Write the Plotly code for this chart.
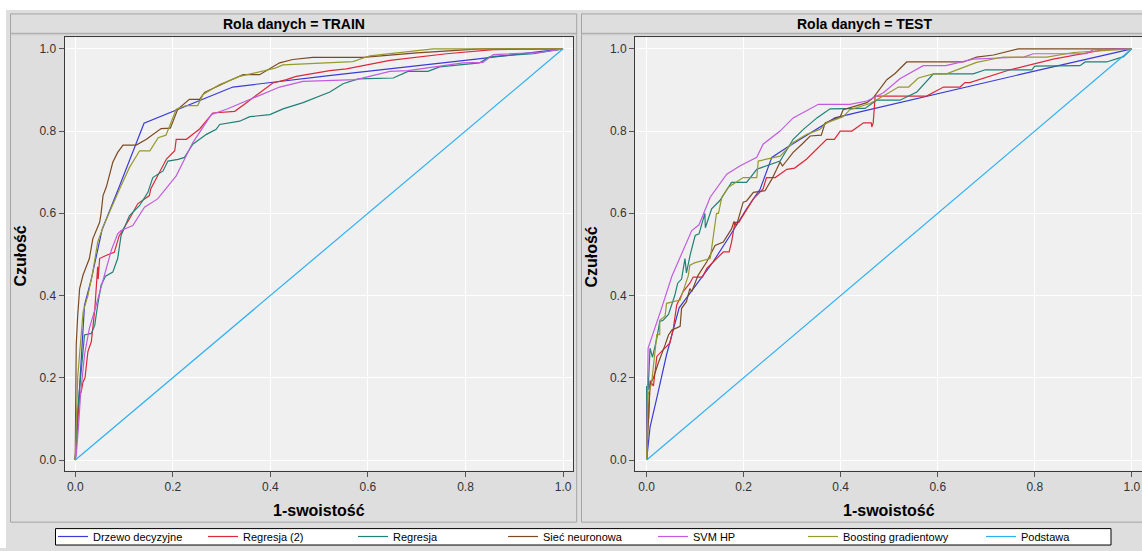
import plotly.graph_objects as go

W, H = 1142, 551

# ---------------- data ----------------
series_names = ["Drzewo decyzyjne", "Regresja (2)", "Regresja", "Sieć neuronowa",
                "SVM HP", "Boosting gradientowy", "Podstawa"]
series_colors = ["#3b3bd6", "#dc2838", "#1f8075", "#7b4a22", "#c25be0", "#959a2e", "#2eb0f5"]

x_ticks = [0.0, 0.2, 0.4, 0.6, 0.8, 1.0]
panel_titles = ["Rola danych = TRAIN", "Rola danych = TEST"]

# TRAIN
train_drzewo_x = [0, 0.002, 0.005, 0.009, 0.019, 0.033, 0.055, 0.091, 0.141, 0.323, 0.52, 0.822, 1.0]
train_drzewo_y = [0, 0.04, 0.08, 0.183, 0.377, 0.44, 0.56, 0.667, 0.819, 0.907, 0.935, 0.975, 1.0]

train_reg2_x = [0, 0.002, 0.009, 0.012, 0.016, 0.02, 0.026, 0.033, 0.04, 0.046, 0.047, 0.05, 0.064,
                0.08, 0.09, 0.111, 0.128, 0.152, 0.155, 0.187, 0.204, 0.207, 0.228, 0.241, 0.255,
                0.282, 0.327, 0.351, 0.378, 0.405, 0.433, 0.453, 0.522, 0.556, 0.645, 0.761, 0.857, 1.0]
train_reg2_y = [0, 0.04, 0.16, 0.165, 0.19, 0.2, 0.264, 0.288, 0.365, 0.47, 0.44, 0.49, 0.498,
                0.505, 0.545, 0.586, 0.623, 0.643, 0.66, 0.732, 0.752, 0.78, 0.78, 0.792, 0.805,
                0.844, 0.848, 0.869, 0.893, 0.917, 0.925, 0.933, 0.947, 0.951, 0.972, 0.988, 0.998, 1.0]

train_reg_x = [0, 0.002, 0.005, 0.011, 0.019, 0.033, 0.040, 0.046, 0.053, 0.062, 0.077, 0.087, 0.094,
               0.111, 0.132, 0.149, 0.159, 0.180, 0.190, 0.211, 0.224, 0.241, 0.269, 0.289, 0.296,
               0.337, 0.358, 0.399, 0.426, 0.467, 0.522, 0.549, 0.580, 0.652, 0.682, 0.723, 0.747,
               0.829, 0.85, 0.939, 1.0]
train_reg_y = [0, 0.05, 0.12, 0.2, 0.304, 0.308, 0.328, 0.377, 0.425, 0.447, 0.457, 0.49, 0.546,
               0.594, 0.619, 0.651, 0.687, 0.703, 0.727, 0.731, 0.736, 0.768, 0.792, 0.804, 0.816,
               0.824, 0.835, 0.84, 0.854, 0.869, 0.895, 0.915, 0.927, 0.929, 0.945, 0.945, 0.956,
               0.966, 0.981, 0.988, 1.0]

train_siec_x = [0, 0.001, 0.002, 0.005, 0.009, 0.016, 0.022, 0.029, 0.036, 0.045, 0.050, 0.053, 0.057,
                0.064, 0.070, 0.077, 0.087, 0.098, 0.125, 0.146, 0.176, 0.195, 0.21, 0.234, 0.255,
                0.265, 0.317, 0.344, 0.378, 0.419, 0.446, 0.487, 0.59, 0.70, 0.83, 1.0]
train_siec_y = [0, 0.12, 0.28, 0.35, 0.417, 0.45, 0.47, 0.49, 0.538, 0.565, 0.578, 0.60, 0.643,
                0.665, 0.69, 0.724, 0.748, 0.766, 0.766, 0.780, 0.806, 0.807, 0.853, 0.877, 0.877,
                0.894, 0.923, 0.937, 0.937, 0.966, 0.974, 0.979, 0.979, 0.99, 1.0, 1.0]

train_svm_x = [0, 0.002, 0.007, 0.011, 0.019, 0.029, 0.043, 0.064, 0.074, 0.087, 0.094, 0.118, 0.142,
               0.169, 0.207, 0.241, 0.279, 0.310, 0.358, 0.419, 0.467, 0.576, 0.645, 0.682, 0.795,
               0.836, 0.857, 0.952, 1.0]
train_svm_y = [0, 0.01, 0.087, 0.16, 0.256, 0.32, 0.377, 0.465, 0.51, 0.55, 0.558, 0.570, 0.615,
               0.635, 0.691, 0.772, 0.840, 0.853, 0.877, 0.907, 0.921, 0.925, 0.945, 0.947, 0.966,
               0.967, 0.986, 0.991, 1.0]

train_boost_x = [0, 0.002, 0.005, 0.016, 0.026, 0.036, 0.046, 0.058, 0.070, 0.091, 0.111, 0.132, 0.153,
                 0.170, 0.186, 0.207, 0.228, 0.251, 0.262, 0.296, 0.337, 0.385, 0.41, 0.426, 0.522,
                 0.569, 0.604, 0.734, 1.0]
train_boost_y = [0, 0.10, 0.2, 0.36, 0.40, 0.457, 0.53, 0.57, 0.604, 0.659, 0.711, 0.752, 0.752,
                 0.784, 0.79, 0.853, 0.862, 0.862, 0.889, 0.913, 0.933, 0.945, 0.953, 0.961, 0.967,
                 0.969, 0.983, 1.0, 1.0]

# TEST
test_drzewo_x = [0, 0.007, 0.021, 0.041, 0.067, 0.096, 0.137, 0.172, 0.206, 0.234, 0.258, 0.289, 0.344,
                 0.388, 0.433, 0.522, 0.577, 0.673, 0.797, 1.0]
test_drzewo_y = [0, 0.08, 0.151, 0.256, 0.37, 0.417, 0.482, 0.546, 0.611, 0.659, 0.736, 0.76, 0.80,
                 0.832, 0.845, 0.869, 0.885, 0.911, 0.945, 1.0]

test_reg2_x = [0, 0.001, 0.004, 0.007, 0.014, 0.021, 0.034, 0.048, 0.055, 0.062, 0.075, 0.089, 0.096,
               0.115, 0.124, 0.144, 0.158, 0.17, 0.175, 0.182, 0.19, 0.203, 0.22, 0.24, 0.247, 0.265,
               0.289, 0.305, 0.33, 0.371, 0.387, 0.399, 0.423, 0.447, 0.463, 0.464, 0.467, 0.471,
               0.577, 0.612, 0.646, 0.656, 0.666, 0.749, 0.838, 0.948, 1.0]
test_reg2_y = [0, 0.163, 0.10, 0.193, 0.18, 0.252, 0.268, 0.285, 0.32, 0.377, 0.409, 0.43, 0.445,
               0.445, 0.466, 0.49, 0.506, 0.506, 0.53, 0.578, 0.578, 0.603, 0.635, 0.659, 0.687, 0.687,
               0.707, 0.71, 0.732, 0.78, 0.78, 0.80, 0.80, 0.82, 0.82, 0.81, 0.82, 0.885,
               0.885, 0.907, 0.907, 0.918, 0.918, 0.949, 0.975, 0.999, 1.0]

test_reg_x = [0, 0.0, 0.003, 0.007, 0.012, 0.021, 0.027, 0.034, 0.045, 0.058, 0.064, 0.072, 0.079,
              0.082, 0.09, 0.1, 0.108, 0.12, 0.121, 0.134, 0.151, 0.175, 0.206, 0.227, 0.275, 0.302,
              0.323, 0.351, 0.378, 0.45, 0.474, 0.522, 0.557, 0.591, 0.673, 0.698, 0.794, 0.8, 0.893,
              0.904, 0.948, 0.983, 1.0]
test_reg_y = [0, 0.18, 0.17, 0.272, 0.25, 0.296, 0.337, 0.34, 0.354, 0.40, 0.43, 0.44, 0.49,
              0.455, 0.50, 0.546, 0.55, 0.60, 0.565, 0.611, 0.631, 0.675, 0.675, 0.707, 0.727, 0.78,
              0.804, 0.832, 0.854, 0.855, 0.875, 0.875, 0.895, 0.939, 0.939, 0.949, 0.949, 0.958, 0.959,
              0.968, 0.968, 0.981, 1.0]

test_siec_x = [0, 0.003, 0.007, 0.014, 0.024, 0.038, 0.045, 0.052, 0.069, 0.072, 0.082, 0.089, 0.093,
               0.106, 0.124, 0.141, 0.158, 0.175, 0.18, 0.185, 0.199, 0.206, 0.22, 0.244, 0.258, 0.268,
               0.275, 0.28, 0.302, 0.32, 0.337, 0.36, 0.368, 0.399, 0.405, 0.454, 0.467, 0.495, 0.512,
               0.536, 0.653, 0.68, 0.715, 0.766, 1.0]
test_siec_y = [0, 0.08, 0.183, 0.2, 0.236, 0.28, 0.304, 0.316, 0.325, 0.369, 0.385, 0.417, 0.41,
               0.449, 0.482, 0.522, 0.53, 0.562, 0.58, 0.57, 0.627, 0.63, 0.651, 0.655, 0.683, 0.707,
               0.725, 0.715, 0.748, 0.768, 0.788, 0.79, 0.82, 0.835, 0.852, 0.869, 0.881, 0.925, 0.94,
               0.968, 0.968, 0.98, 0.985, 1.0, 1.0]

test_svm_x = [0, 0.003, 0.031, 0.052, 0.093, 0.108, 0.131, 0.165, 0.192, 0.227, 0.240, 0.275, 0.302,
              0.354, 0.419, 0.454, 0.488, 0.522, 0.57, 0.617, 0.673, 0.777, 0.797, 0.907, 0.92, 1.0]
test_svm_y = [0, 0.272, 0.37, 0.447, 0.558, 0.572, 0.639, 0.695, 0.715, 0.736, 0.768, 0.80, 0.832,
              0.865, 0.865, 0.873, 0.893, 0.927, 0.959, 0.959, 0.975, 0.98, 0.988, 0.988, 0.998, 1.0]

test_boost_x = [0, 0.003, 0.01, 0.019, 0.021, 0.027, 0.027, 0.038, 0.041, 0.069, 0.075, 0.086, 0.089,
                0.10, 0.131, 0.137, 0.144, 0.148, 0.155, 0.168, 0.199, 0.227, 0.23, 0.275, 0.302, 0.33,
                0.357, 0.371, 0.405, 0.419, 0.46, 0.488, 0.519, 0.54, 0.56, 0.591, 0.618, 0.68, 0.735,
                0.825, 0.88, 1.0]
test_boost_y = [0, 0.16, 0.185, 0.276, 0.305, 0.305, 0.34, 0.35, 0.381, 0.389, 0.41, 0.449, 0.474,
                0.48, 0.49, 0.538, 0.60, 0.60, 0.639, 0.663, 0.687, 0.687, 0.727, 0.739, 0.772, 0.792,
                0.804, 0.82, 0.835, 0.852, 0.867, 0.885, 0.907, 0.907, 0.929, 0.939, 0.939, 0.967, 0.98,
                0.98, 0.991, 1.0]

baseline_x = [0.0, 1.0]
baseline_y = [0.0, 1.0]

train_data = [(train_drzewo_x, train_drzewo_y), (train_reg2_x, train_reg2_y), (train_reg_x, train_reg_y),
              (train_siec_x, train_siec_y), (train_svm_x, train_svm_y), (train_boost_x, train_boost_y),
              (baseline_x, baseline_y)]
test_data = [(test_drzewo_x, test_drzewo_y), (test_reg2_x, test_reg2_y), (test_reg_x, test_reg_y),
             (test_siec_x, test_siec_y), (test_svm_x, test_svm_y), (test_boost_x, test_boost_y),
             (baseline_x, baseline_y)]

legend_widths = [105, 105, 105, 105, 105, 133, 86]

# ---------------- figure ----------------
FONT = "Liberation Sans, Arial, sans-serif"
fig = go.Figure()

for i, name in enumerate(series_names):
    fig.add_trace(go.Scatter(x=train_data[i][0], y=train_data[i][1], mode="lines", name=name,
                             line=dict(color=series_colors[i], width=1.2), legendgroup=name,
                             legendwidth=legend_widths[i], xaxis="x", yaxis="y"))
for i, name in enumerate(series_names):
    fig.add_trace(go.Scatter(x=test_data[i][0], y=test_data[i][1], mode="lines", name=name,
                             line=dict(color=series_colors[i], width=1.2), legendgroup=name,
                             showlegend=False, xaxis="x2", yaxis="y2"))


# pixel -> paper-fraction helpers (page margin removed, so figure pixels == screen pixels)
def px(s):
    return s / W


def py(s):
    return 1 - s / H


ydom = [py(473.3), py(37.5)]
axis_common = dict(showgrid=True, gridcolor="white", gridwidth=1, zeroline=False,
                   showline=True, linecolor="#3a3a3a", linewidth=1,
                   ticks="outside", ticklen=5, tickcolor="#555555",
                   tickfont=dict(family=FONT, size=12, color="#333333"),
                   tickvals=x_ticks, ticktext=[f"{t:.1f}" for t in x_ticks])

fig.update_layout(
    width=W, height=H,
    margin=dict(l=0, r=0, t=0, b=0),
    paper_bgcolor="#dedede",
    plot_bgcolor="#f0f0f0",
    font=dict(family=FONT, color="#000000"),
    xaxis=dict(domain=[px(64.5), px(573.3)], range=[-0.022, 1.021], anchor="y", mirror=True, **axis_common),
    yaxis=dict(domain=ydom, range=[-0.026, 1.028], anchor="x", mirror=True, **axis_common),
    xaxis2=dict(domain=[px(635), 1.0], range=[-0.024, 1.021], anchor="y2", mirror=True, **axis_common),
    yaxis2=dict(domain=ydom, range=[-0.026, 1.028], anchor="x2", mirror=False, **axis_common),
    showlegend=True,
    legend=dict(orientation="h", x=px(53), xanchor="left", y=py(539.5), yanchor="middle",
                bgcolor="rgba(0,0,0,0)", borderwidth=0,
                font=dict(family=FONT, size=11, color="#000000"),
                itemwidth=30, tracegroupgap=0),
)

shapes = []
# white page edge (top and left)
shapes.append(dict(type="rect", xref="paper", yref="paper", x0=0, x1=1, y0=py(10), y1=1,
                   fillcolor="white", line=dict(width=0), layer="below"))
shapes.append(dict(type="rect", xref="paper", yref="paper", x0=0, x1=px(6), y0=0, y1=1,
                   fillcolor="white", line=dict(width=0), layer="below"))
# panels
for (l, r) in [(10.5, 576.7), (581.5, 1160)]:
    shapes.append(dict(type="rect", xref="paper", yref="paper", x0=px(l), x1=px(r), y0=py(525), y1=py(14),
                       line=dict(color="#a4a4a4", width=1), fillcolor="rgba(0,0,0,0)", layer="below"))
    shapes.append(dict(type="line", xref="paper", yref="paper", x0=px(l), x1=px(r), y0=py(33.5), y1=py(33.5),
                       line=dict(color="#a4a4a4", width=1), layer="below"))
    shapes.append(dict(type="line", xref="paper", yref="paper", x0=px(l), x1=px(r), y0=py(35), y1=py(35),
                       line=dict(color="#c8c8c8", width=1), layer="below"))
# legend box
shapes.append(dict(type="rect", xref="paper", yref="paper", x0=px(55.5), x1=px(1111), y0=py(548), y1=py(531.5),
                   fillcolor="white", line=dict(color="#000000", width=1), layer="below"))
fig.update_layout(shapes=shapes)

ann = []
for title, cx in zip(panel_titles, [293.7, 864]):
    ann.append(dict(text=f"<b>{title}</b>", x=px(cx), y=py(24), xref="paper", yref="paper",
                    showarrow=False, xanchor="center", yanchor="middle",
                    font=dict(family=FONT, size=14, color="#000000")))
for cx in [319, 888.5]:
    ann.append(dict(text="<b>1-swoistość</b>", x=px(cx), y=py(513), xref="paper", yref="paper",
                    showarrow=False, xanchor="center", yanchor="middle",
                    font=dict(family=FONT, size=16, color="#000000")))
for cx in [21, 592]:
    ann.append(dict(text="<b>Czułość</b>", x=px(cx), y=py(258), xref="paper", yref="paper",
                    showarrow=False, xanchor="center", yanchor="middle", textangle=-90,
                    font=dict(family=FONT, size=16, color="#000000")))
fig.update_layout(annotations=ann)

fig.write_html("out.html", config={"displayModeBar": False},
               post_script="document.body.style.margin='0px'; document.body.style.overflow='hidden';")
